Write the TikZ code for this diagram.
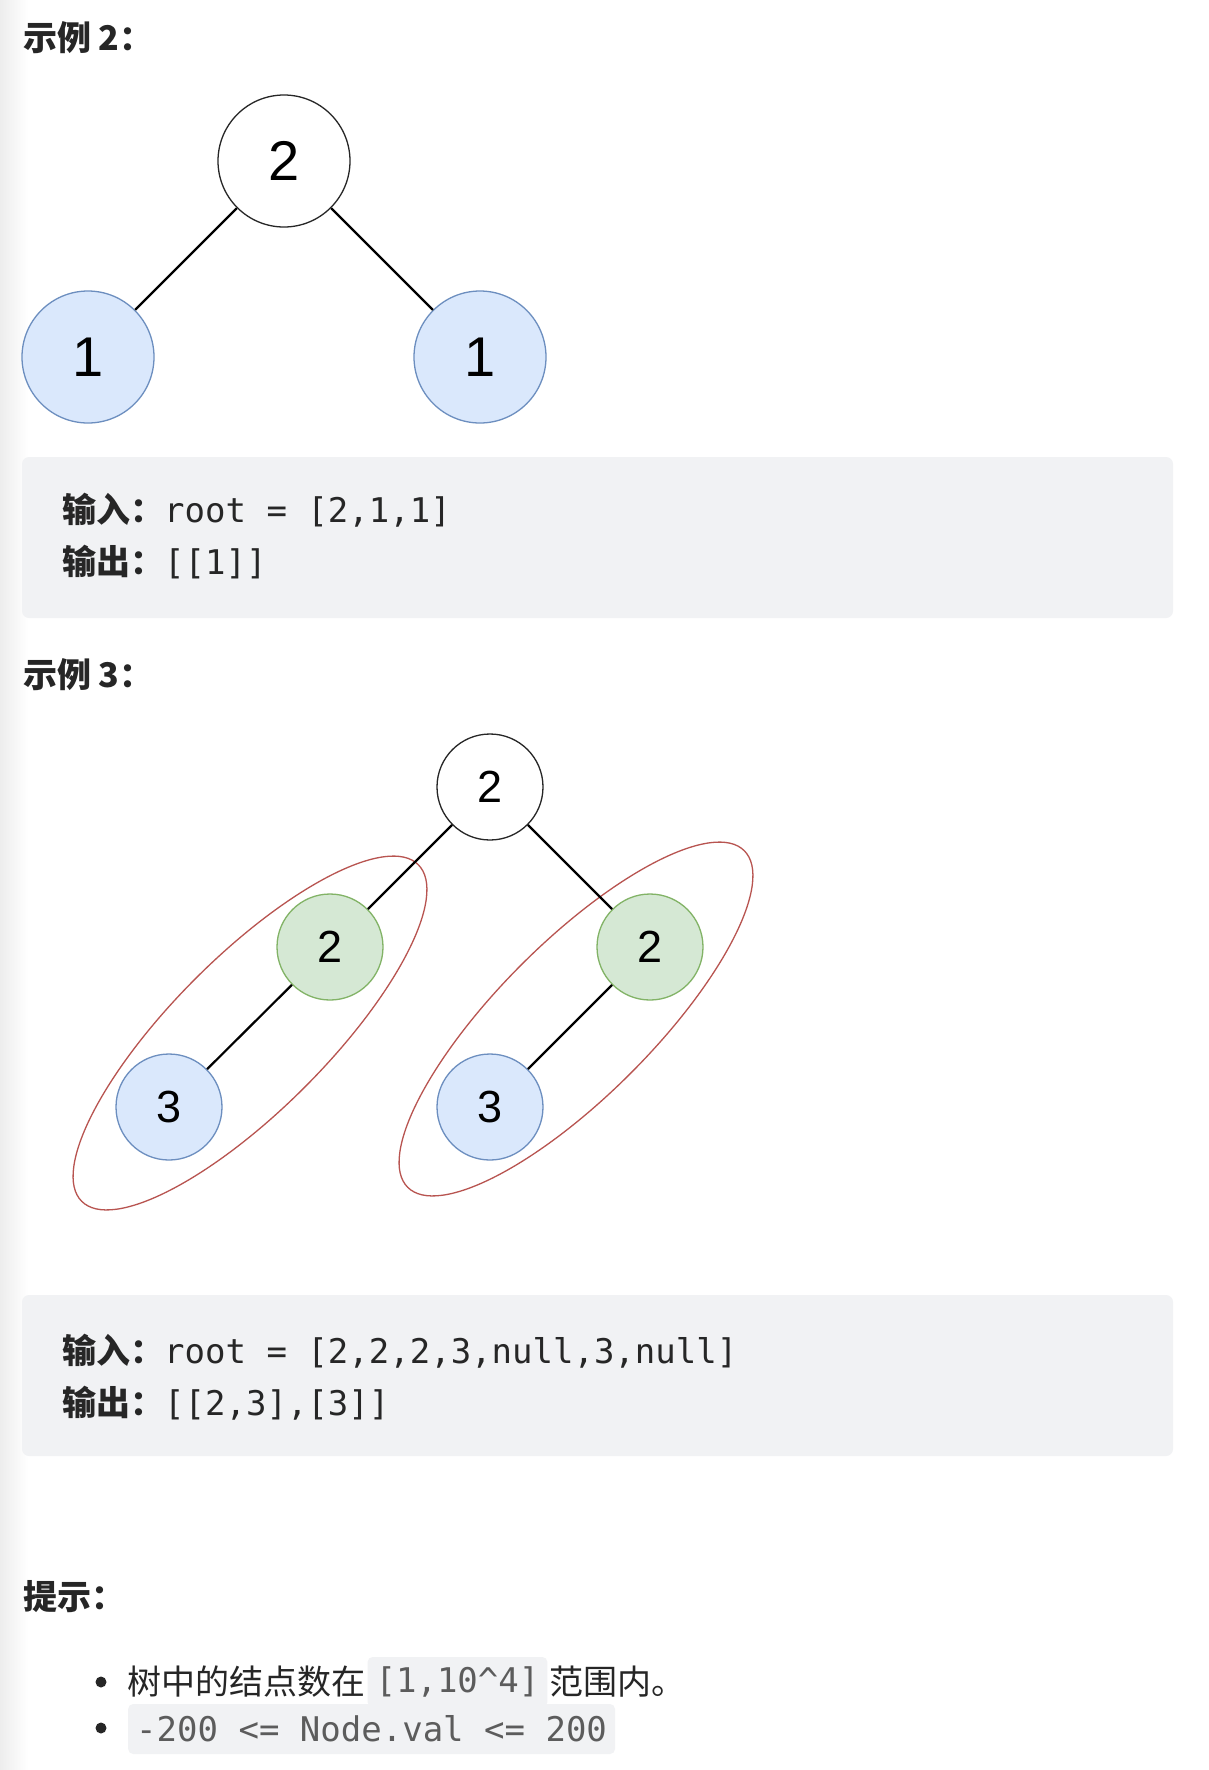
\documentclass[tikz,border=0pt]{standalone}
\usepackage{fontspec}
\usepackage{xcolor}
\setmainfont{Liberation Sans}
\setmonofont{DejaVu Sans Mono}
\newfontfamily\cjk{Noto Sans CJK SC}
\usetikzlibrary{positioning}

\definecolor{txt}{HTML}{262626}
\definecolor{codebg}{HTML}{F1F2F4}
\definecolor{codefg}{HTML}{5C5C5C}
\definecolor{blfill}{HTML}{DAE8FC}
\definecolor{bldraw}{HTML}{6C8EBF}
\definecolor{grfill}{HTML}{D5E8D4}
\definecolor{grdraw}{HTML}{82B366}
\definecolor{grpdraw}{HTML}{B85450}

\begin{document}
\begin{tikzpicture}[x=1pt, y=-1pt,
  tnode/.style={circle, draw=black!85, fill=white, line width=1.3pt, inner sep=0pt},
  big/.style={minimum size=132pt, font=\fontsize{56}{60}\selectfont},
  small/.style={minimum size=106pt, font=\fontsize{45}{50}\selectfont},
  blue/.style={fill=blfill, draw=bldraw},
  green/.style={fill=grfill, draw=grdraw},
  edge/.style={line width=2.2pt, black},
  grp/.style={draw=grpdraw, line width=1.3pt},
  title/.style={anchor=west, inner sep=0pt, text=txt, font=\cjk\bfseries\fontsize{34}{40}\selectfont},
  codeline/.style={anchor=west, inner sep=0pt, text=txt, font=\fontsize{34}{40}\selectfont},
  plain/.style={inner sep=0pt, text=txt, font=\cjk\fontsize{34}{40}\selectfont},
  icode/.style={fill=codebg, rounded corners=5pt, inner xsep=8pt, minimum height=50pt, text=codefg, font=\ttfamily\fontsize{34}{40}\selectfont}]
\useasboundingbox (0,0) rectangle (1208,1770);
\fill[white] (0,0) rectangle (1208,1770);
\shade[left color=black!7, right color=white] (0,0) rectangle (28,1770);

%% example 2
\node (h2) [title] at (23,38) {示例 2：};
\node (r1) [tnode, big] at (284,161) {2};
\node (a1) [tnode, big, blue] at (88,357) {1};
\node (b1) [tnode, big, blue] at (480,357) {1};
\draw[edge] (r1) -- (a1);
\draw[edge] (r1) -- (b1);

\fill[codebg, rounded corners=7pt] (22,457) rectangle (1173,618);
\node (in1) [codeline] at (62,510) {{\cjk\bfseries 输入：}\texttt{root = [2,1,1]}};
\node (out1) [codeline] at (62,562) {{\cjk\bfseries 输出：}\texttt{[[1]]}};

%% example 3
\node (h3) [title] at (23,675) {示例 3：};
\draw[grp] (250,1033) ellipse [x radius=238, y radius=77, rotate=45];
\draw[grp] (576,1019) ellipse [x radius=238, y radius=77, rotate=45];
\node (r2) [tnode, small] at (490,787) {2};
\node (a2) [tnode, small, green] at (330,947) {2};
\node (b2) [tnode, small, green] at (650,947) {2};
\node (a3) [tnode, small, blue] at (169,1107) {3};
\node (b3) [tnode, small, blue] at (490,1107) {3};
\draw[edge] (r2) -- (a2);
\draw[edge] (r2) -- (b2);
\draw[edge] (a2) -- (a3);
\draw[edge] (b2) -- (b3);

\fill[codebg, rounded corners=7pt] (22,1295) rectangle (1173,1456);
\node (in2) [codeline] at (62,1351) {{\cjk\bfseries 输入：}\texttt{root = [2,2,2,3,null,3,null]}};
\node (out2) [codeline] at (62,1403) {{\cjk\bfseries 输出：}\texttt{[[2,3],[3]]}};

%% hints
\node (h4) [title] at (23,1597) {提示：};
\fill[txt] (101,1682) circle (5.5);
\fill[txt] (101,1728) circle (5.5);
\node (t1) [plain, anchor=west] at (127,1682) {树中的结点数在};
\node (c1) [icode, right=2pt of t1] {[1,10\textasciicircum4]};
\node (t2) [plain, right=2pt of c1] {范围内。};
\node (c2) [icode, anchor=west] at (128,1729) {-200 <= Node.val <= 200};
\end{tikzpicture}
\end{document}
